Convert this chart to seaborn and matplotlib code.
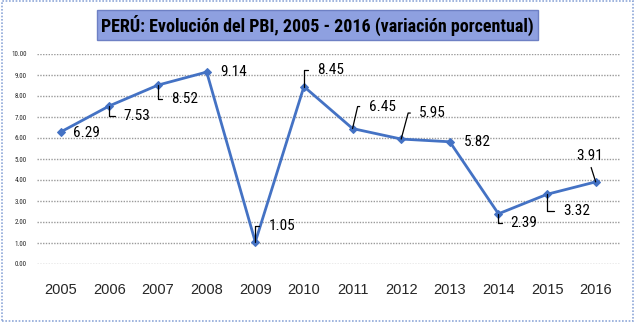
import numpy as np
import pandas as pd
import matplotlib
matplotlib.use("Agg")
import matplotlib.pyplot as plt
from matplotlib.patches import Rectangle
import seaborn as sns

years = ["2005", "2006", "2007", "2008", "2009", "2010",
         "2011", "2012", "2013", "2014", "2015", "2016"]
pbi = [6.29, 7.53, 8.52, 9.14, 1.05, 8.45, 6.45, 5.95, 5.82, 2.39, 3.32, 3.91]
y_ticks = [0, 1, 2, 3, 4, 5, 6, 7, 8, 9, 10]

# label placement: pixel offset of the label from its point, leader style
# and the angle at which the leader leaves the point
label_offsets = [(12, -1), (14, -10), (13, -14), (14, 0), (13, 16), (13, 17),
                 (16, 22), (18, 26), (14, 0), (12, -9), (16, -17), (-6, 26)]
leader = ["none", "elbow", "elbow", "none", "elbow", "elbow",
          "elbow", "elbow", "none", "elbow", "elbow", "straight"]
leader_angle = [90, 90, 90, 90, 90, 90, 77, 75, 90, 90, 90, 90]

sns.set_style("white")
narrow = ["Roboto Condensed", "PT Sans Narrow", "Liberation Sans", "DejaVu Sans"]
regular = ["Liberation Sans", "DejaVu Sans"]
plt.rcParams["font.family"] = regular

df = pd.DataFrame({"pos": np.arange(len(years)), "pbi": pbi})

fig = plt.figure(figsize=(6.36, 3.22), dpi=100)
ax = fig.add_axes([36.5 / 636, 1 - 264 / 322, (620 - 36.5) / 636, 210 / 322])

for v in y_ticks:
    ax.axhline(v, color="#9a9a9a", lw=1.0, ls=(0, (1, 1)), zorder=0)

sns.lineplot(data=df, x="pos", y="pbi", ax=ax, color="#4472C4", lw=2.0,
             marker="D", markersize=4.5, markeredgecolor="#4472C4", zorder=3)

for i, v in enumerate(pbi):
    dx, dy = label_offsets[i]
    kw = dict(xy=(i, v), xytext=(dx, dy), textcoords="offset pixels",
              fontsize=11, family=narrow, color="black", va="center", zorder=4)
    if leader[i] == "elbow":
        kw["arrowprops"] = dict(arrowstyle="-", color="black", lw=0.9,
                                shrinkA=4, shrinkB=0, relpos=(0, 0.5),
                                connectionstyle=f"angle,angleA=0,angleB={leader_angle[i]},rad=0")
    elif leader[i] == "straight":
        kw["ha"] = "center"
        kw["arrowprops"] = dict(arrowstyle="-", color="black", lw=0.9,
                                shrinkA=1, shrinkB=0, relpos=(0.5, 0))
    ax.annotate(f"{v:.2f}", **kw)

ax.set_xlim(-0.5, len(years) - 0.5)
ax.set_ylim(0, 10)
ax.set_xticks(np.arange(len(years)))
ax.set_xticklabels(years, fontsize=10.5)
ax.set_yticks(y_ticks)
ax.set_yticklabels([f"{t:.2f}" for t in y_ticks], fontsize=5, family=narrow)
ax.tick_params(axis="x", length=0, pad=14)
ax.tick_params(axis="y", length=0, pad=7)
ax.set_xlabel("")
ax.set_ylabel("")
for s in ax.spines.values():
    s.set_visible(False)

fig.text(317.5 / 636, 1 - 25 / 322,
         "PERÚ: Evolución del PBI, 2005 - 2016 (variación porcentual)",
         ha="center", va="center", fontsize=13, fontweight="bold",
         family=narrow, color="black",
         bbox=dict(boxstyle="square,pad=0.22", facecolor="#8EA0E0",
                   edgecolor="#6E80C4", lw=1.0))

fig.patches.append(Rectangle((0.003, 0.004), 0.992, 0.992, transform=fig.transFigure,
                             fill=False, edgecolor="#8FA8D8", lw=1.2,
                             ls=(0, (1, 1))))

fig.savefig("out.png", dpi=100)
